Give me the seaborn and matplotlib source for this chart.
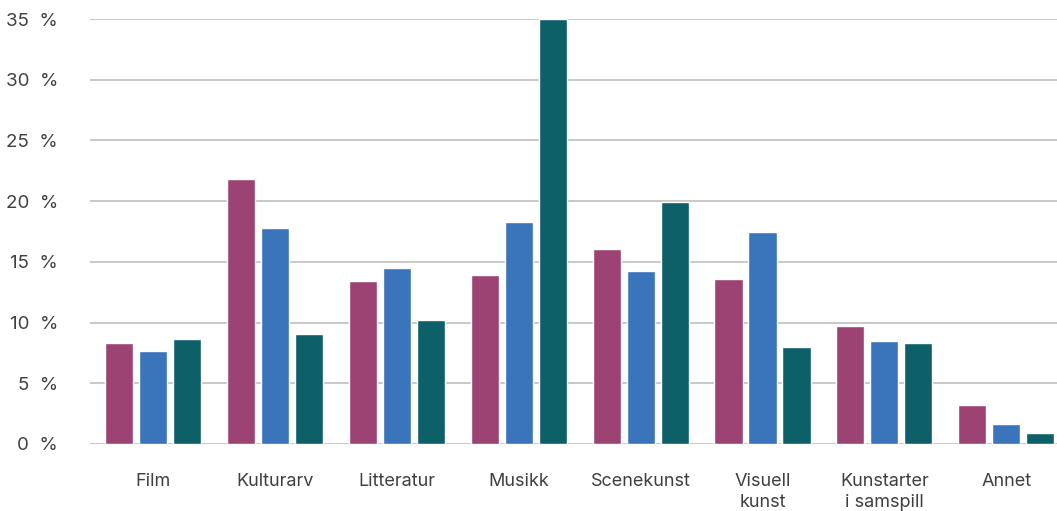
import matplotlib
matplotlib.use("Agg")
import matplotlib.pyplot as plt
import seaborn as sns
import pandas as pd
from matplotlib.ticker import FuncFormatter

categories = ["Film", "Kulturarv", "Litteratur", "Musikk", "Scenekunst",
              "Visuell\nkunst", "Kunstarter\ni samspill", "Annet"]
series_names = ["Serie 1", "Serie 2", "Serie 3"]
serie1 = [8.3, 21.8, 13.4, 13.9, 16.1, 13.6, 9.7, 3.2]
serie2 = [7.7, 17.8, 14.5, 18.3, 14.25, 17.5, 8.5, 1.65]
serie3 = [8.65, 9.1, 10.2, 35.0, 19.9, 8.0, 8.3, 0.9]
yticks = [0, 5, 10, 15, 20, 25, 30, 35]
colors = ["#9C4374", "#3A74BA", "#0D5F68"]

rows = []
for name, vals in zip(series_names, [serie1, serie2, serie3]):
    for c, v in zip(categories, vals):
        rows.append({"Kategori": c, "Serie": name, "Andel": v})
df = pd.DataFrame(rows)

sns.set_theme(style="white")
plt.rcParams["font.family"] = ["Inter", "DejaVu Sans"]

fig = plt.figure(figsize=(10.57, 5.11), dpi=100)
ax = fig.add_axes([90 / 1057, 1 - 444 / 511, 1 - 90 / 1057, (444 - 19) / 511])

sns.barplot(data=df, x="Kategori", y="Andel", hue="Serie", order=categories,
            hue_order=series_names, palette=colors, width=0.837, gap=0.176,
            saturation=1, legend=False, ax=ax, zorder=3)

ax.set_ylim(0, 35)
ax.set_xlim(-0.517, 7.416)
ax.set_yticks(yticks)
ax.yaxis.set_major_formatter(FuncFormatter(lambda v, p: f"{int(v)}  %"))
ax.grid(axis="y", color="#C4C4C4", linewidth=1.3, zorder=0)
ax.set_axisbelow(True)
for s in ax.spines.values():
    s.set_visible(False)
ax.set_xlabel("")
ax.set_ylabel("")
ax.tick_params(axis="y", length=0, pad=23, labelsize=13.5, labelcolor="#404040")
ax.tick_params(axis="x", length=0, pad=21, labelsize=13, labelcolor="#404040")
for t in ax.get_xticklabels():
    t.set_linespacing(1.3)
    t.set_verticalalignment("top")

fig.savefig("out.png", dpi=100)
